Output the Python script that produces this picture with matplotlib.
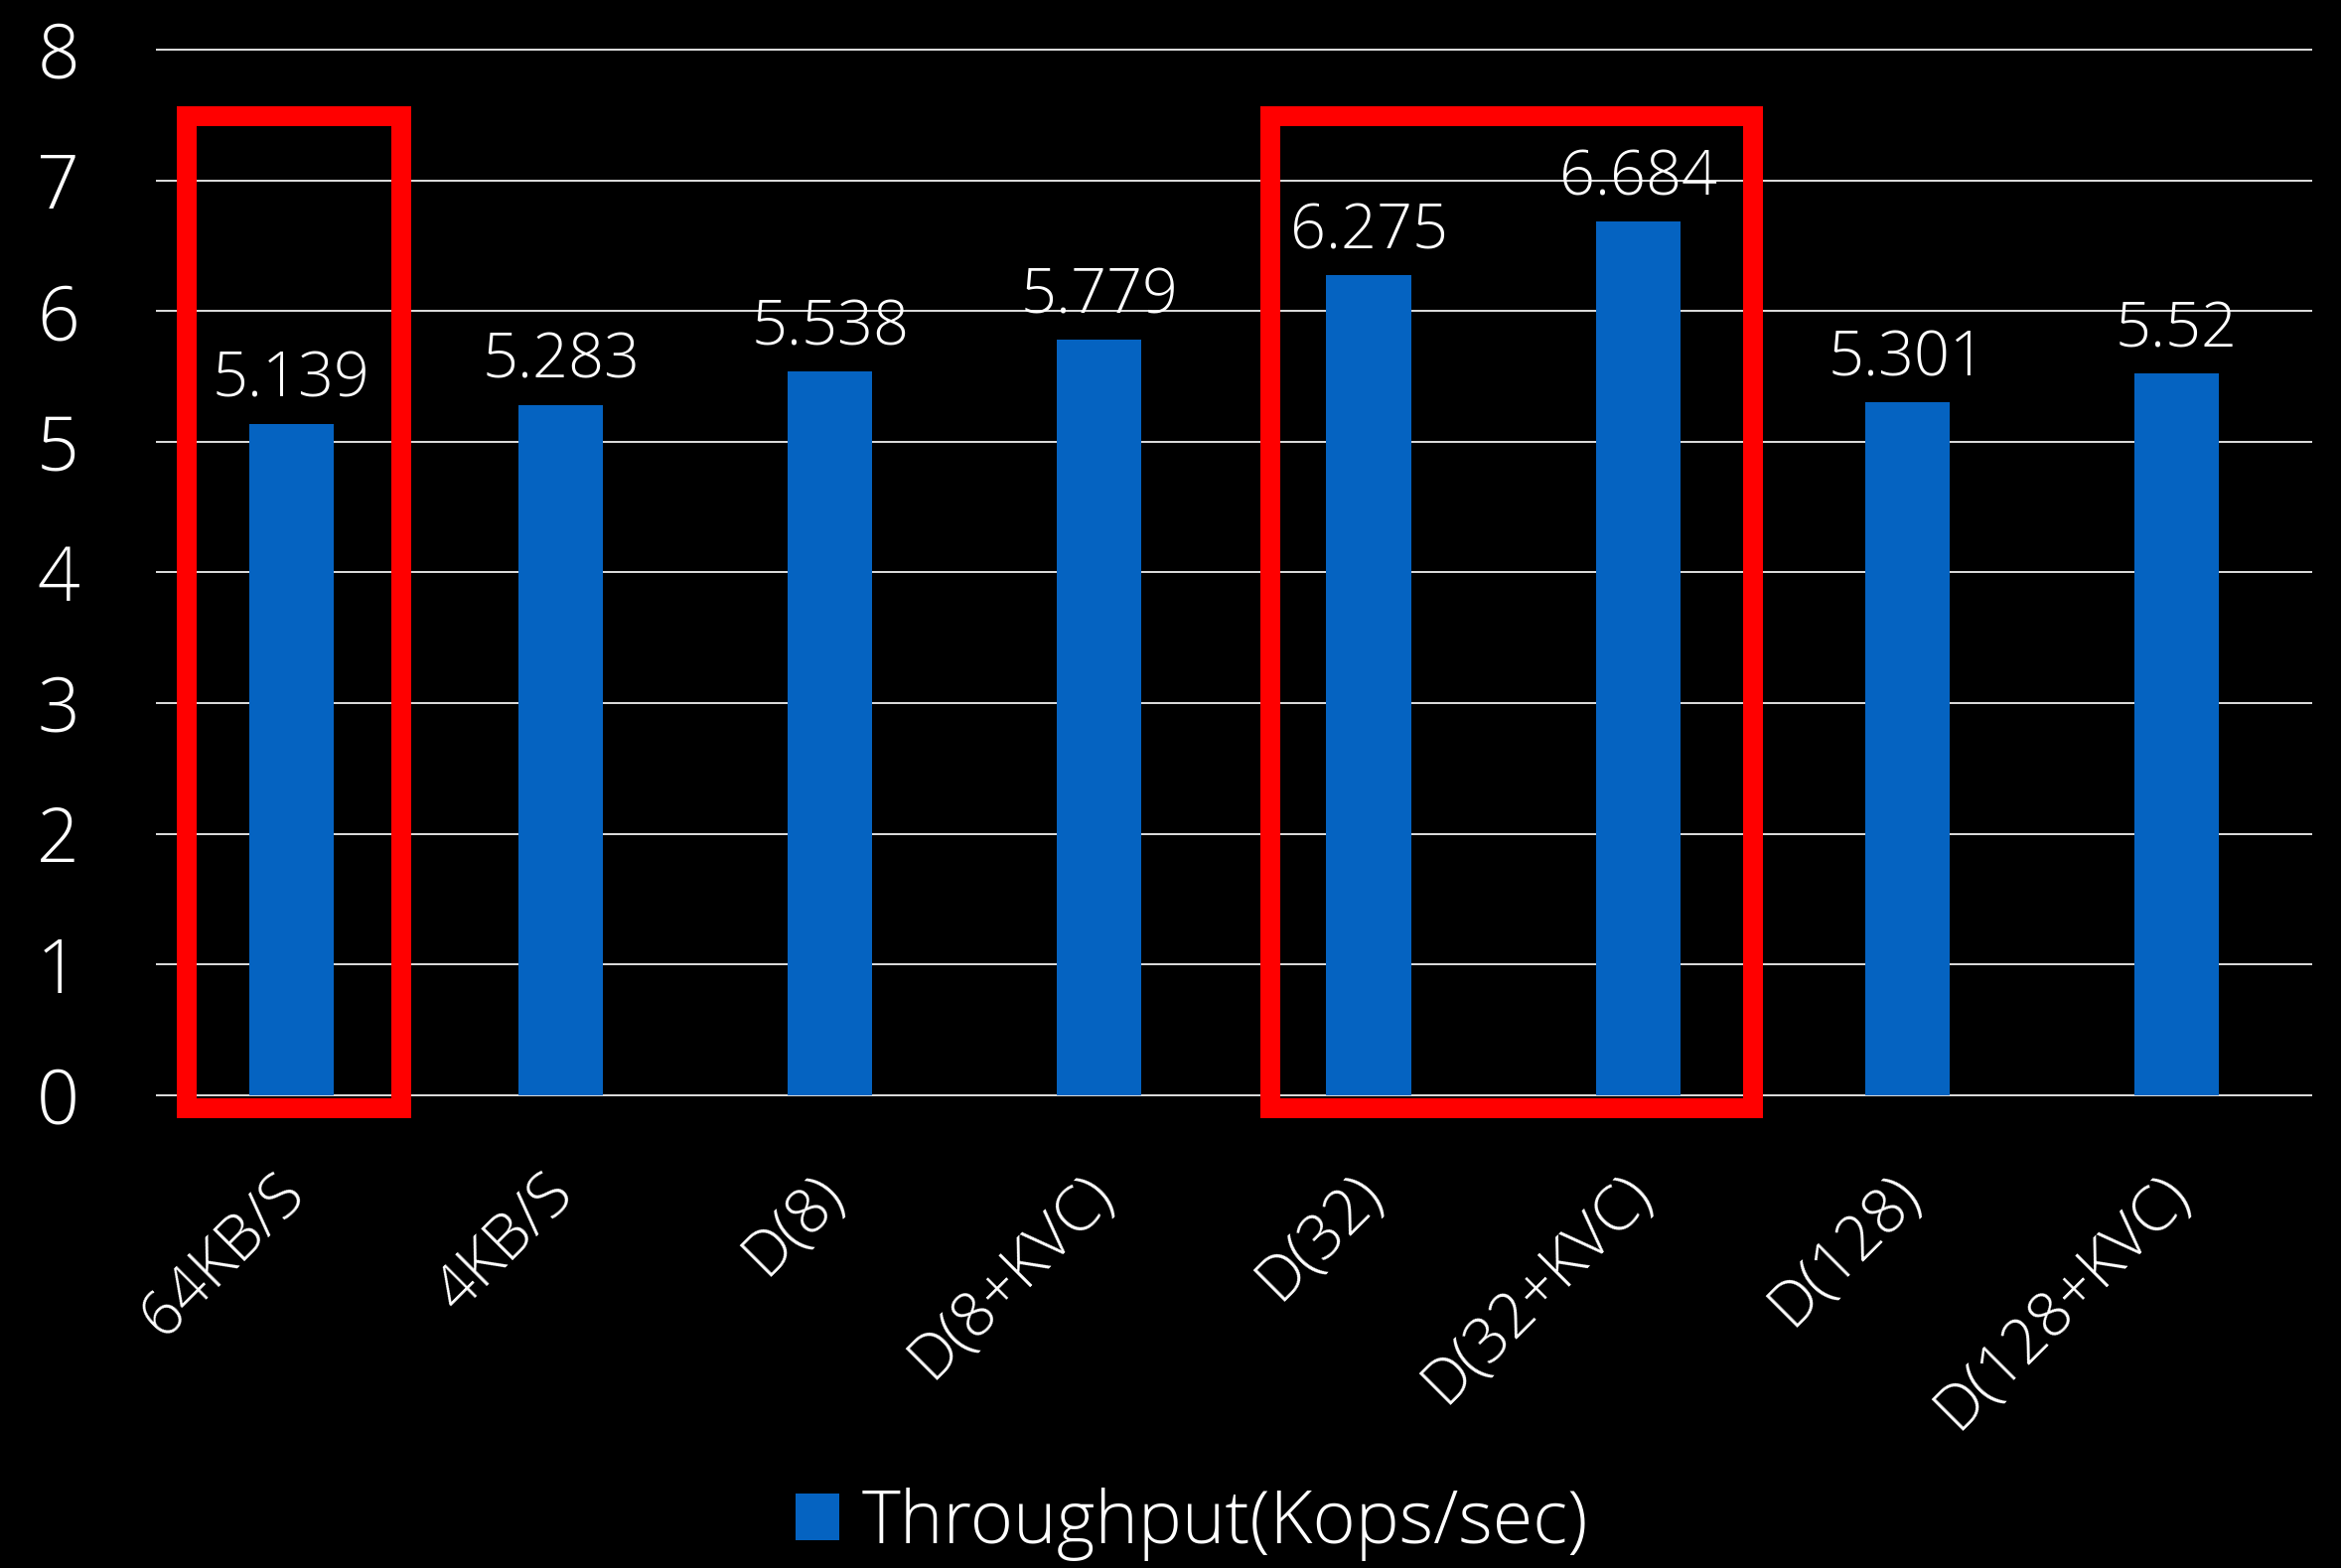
import matplotlib
matplotlib.use("Agg")
import matplotlib.pyplot as plt
import matplotlib.transforms as mtransforms
from matplotlib.patches import Rectangle

plt.rcParams["font.family"] = ["Open Sans", "DejaVu Sans"]
plt.rcParams["font.weight"] = "light"

# Data
categories = ["64KB/S", "4KB/S", "D(8)", "D(8+KVC)", "D(32)", "D(32+KVC)", "D(128)", "D(128+KVC)"]
throughput = [5.139, 5.283, 5.538, 5.779, 6.275, 6.684, 5.301, 5.52]
series_name = "Throughput(Kops/sec)"
y_ticks = [0, 1, 2, 3, 4, 5, 6, 7, 8]

# Highlighted groups: (first index, last index)
highlight_groups = [(0, 0), (4, 5)]

BAR_COLOR = "#0563C1"
GRID_COLOR = "#D9D9D9"
HIGHLIGHT_COLOR = "#FF0000"
TEXT_COLOR = "white"

DPI = 72
fig = plt.figure(figsize=(2357 / DPI, 1579 / DPI), dpi=DPI, facecolor="black")
ax = fig.add_axes([0.0670, 0.3015, 0.9203, 0.6668], facecolor="black")

x = list(range(len(categories)))
ax.bar(x, throughput, width=0.314, color=BAR_COLOR, zorder=2)

# Value labels above bars
for xi, v in zip(x, throughput):
    ax.annotate(f"{v:g}", xy=(xi, v), xytext=(0, 12), textcoords="offset points",
                ha="center", va="bottom", color=TEXT_COLOR, fontsize=63, zorder=4)

ax.set_xlim(-0.5, len(categories) - 0.5)
ax.set_ylim(0, 8)
ax.set_yticks(y_ticks)
ax.set_yticklabels([str(t) for t in y_ticks])
ax.yaxis.grid(True, color=GRID_COLOR, linewidth=2)
ax.set_axisbelow(True)
for gl in ax.get_ygridlines():
    gl.set_clip_on(False)
for sp in ax.spines.values():
    sp.set_visible(False)

ax.tick_params(axis="y", length=0, pad=78, labelsize=75, labelcolor=TEXT_COLOR)
ax.tick_params(axis="x", length=0, pad=90, labelsize=63, labelcolor=TEXT_COLOR)
for lbl in ax.get_yticklabels():
    lbl.set_horizontalalignment("right")

ax.set_xticks(x)
ax.set_xticklabels(categories, rotation=45, ha="right", va="center", rotation_mode="anchor")
shift = mtransforms.ScaledTranslation(4 / DPI, 0, fig.dpi_scale_trans)
for lbl in ax.get_xticklabels():
    lbl.set_transform(lbl.get_transform() + shift)

# Red frames around highlighted groups
box_margins = {(0, 0): (0.389, 0.408), (4, 5): (0.365, 0.426)}
box_top, box_bottom = 7.49, -0.10
for g in highlight_groups:
    left_m, right_m = box_margins[g]
    x0 = g[0] - left_m
    x1 = g[1] + right_m
    rect = Rectangle((x0, box_bottom), x1 - x0, box_top - box_bottom, fill=False,
                     edgecolor=HIGHLIGHT_COLOR, linewidth=20, joinstyle="miter",
                     clip_on=False, zorder=3)
    ax.add_patch(rect)

# Legend
handle = Rectangle((0, 0), 1, 1, facecolor=BAR_COLOR, edgecolor="none")
fig.legend([handle], [series_name], loc="center", bbox_to_anchor=(0.509, 0.028),
           frameon=False, fontsize=74, labelcolor=TEXT_COLOR,
           handlelength=0.6, handleheight=0.6, handletextpad=0.3, borderpad=0)

fig.savefig("out.png", dpi=DPI, facecolor="black")
